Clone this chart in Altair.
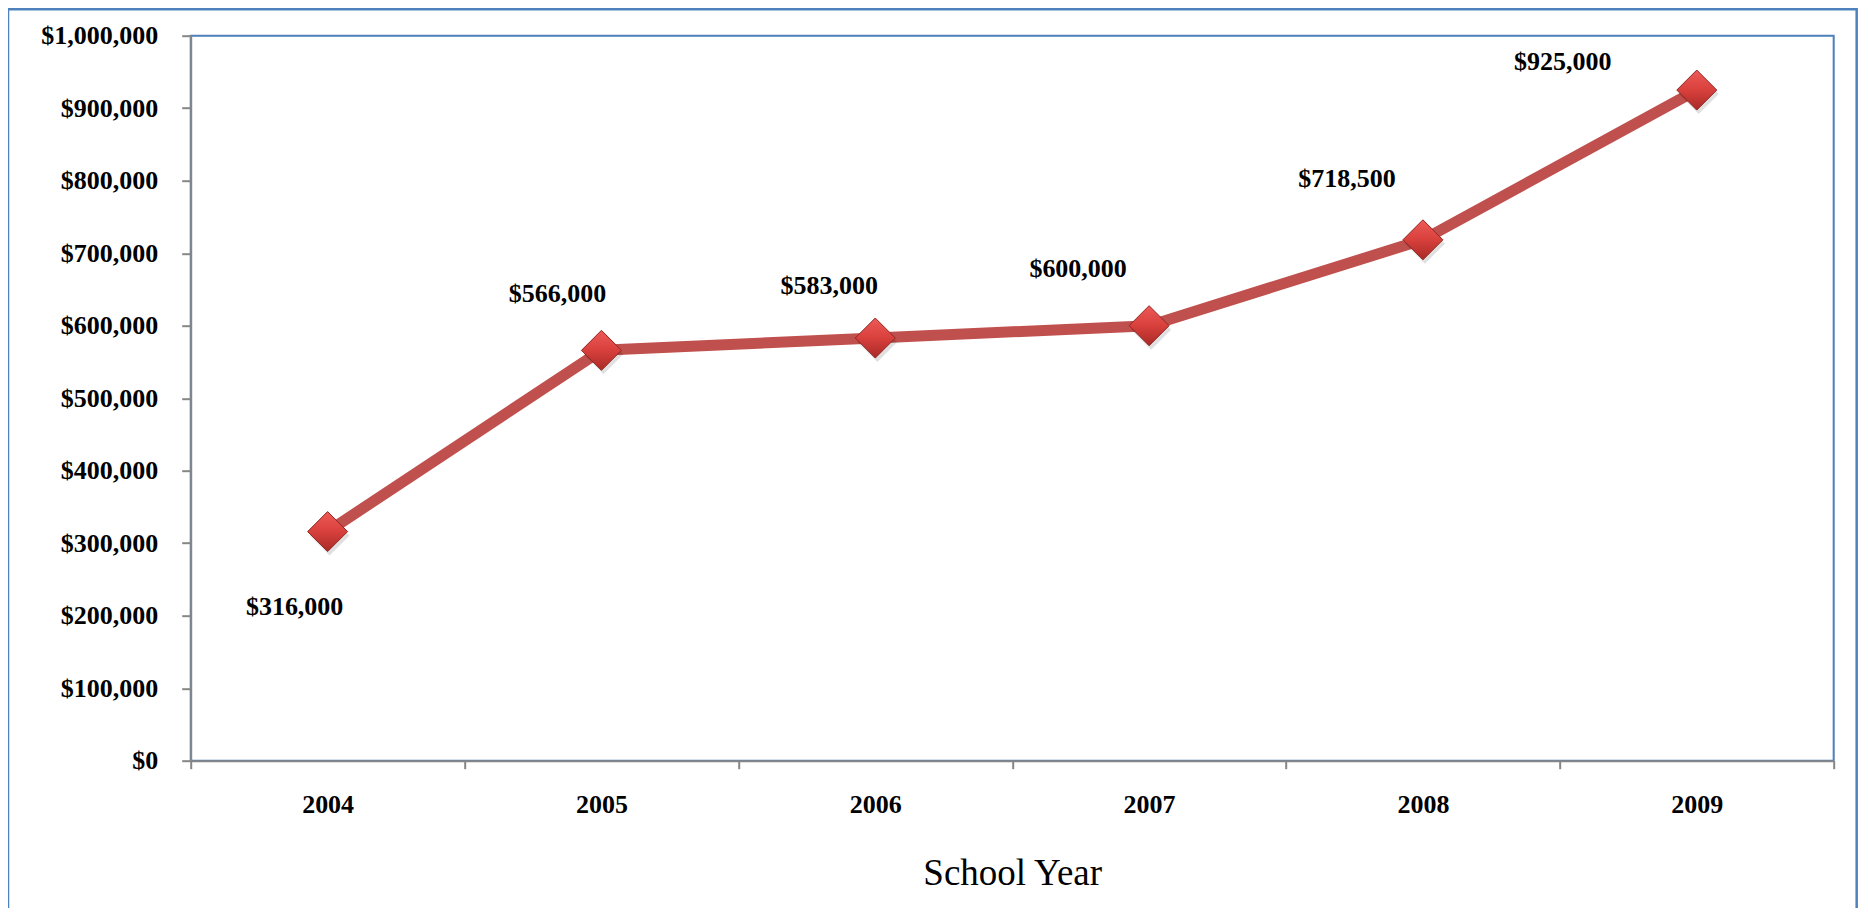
import altair as alt
import pandas as pd

# ---- data ----
years = ["2004", "2005", "2006", "2007", "2008", "2009"]
funding = [316000, 566000, 583000, 600000, 718500, 925000]
y_ticks = [0, 100000, 200000, 300000, 400000, 500000, 600000, 700000, 800000, 900000, 1000000]

# label placement (style only): pixel offsets of each data label from its marker
label_offsets = [(-33, 75), (-44, -56), (-46, -52), (-71, -57), (-76, -61), (-134, -28)]

df = pd.DataFrame({"year": years, "funding": funding})

FONT = "Liberation Serif"
W, H = 1643, 725
AXIS_GRAY = "#868686"
BLUE = "#4F81BD"
RED = "#C0504D"

x_enc = alt.X(
    "year:N",
    sort=years,
    bandPosition=0.5,
    scale=alt.Scale(type="band", paddingInner=0, paddingOuter=0),
    axis=alt.Axis(
        title="School Year",
        labelAngle=0,
        tickBand="extent",
        labelFont=FONT,
        labelFontSize=26,
        labelFontWeight="bold",
        labelColor="black",
        labelPadding=23,
        titleFont=FONT,
        titleFontSize=37,
        titleFontWeight="normal",
        titleColor="black",
        titlePadding=38,
        domainColor=AXIS_GRAY,
        domainWidth=2,
        tickColor=AXIS_GRAY,
        tickWidth=2,
        tickSize=8,
        zindex=1,
    ),
)

y_enc = alt.Y(
    "funding:Q",
    scale=alt.Scale(domain=[0, 1000000], nice=False),
    axis=alt.Axis(
        title=None,
        values=y_ticks,
        format="$,.0f",
        grid=False,
        labelFont=FONT,
        labelFontSize=26,
        labelFontWeight="bold",
        labelColor="black",
        labelPadding=24,
        domainColor=AXIS_GRAY,
        domainWidth=2,
        tickColor=AXIS_GRAY,
        tickWidth=2,
        tickSize=9,
        zindex=1,
    ),
)

base = alt.Chart(df).encode(x=x_enc, y=y_enc)

# plot-area border (blue top/right edges; axes drawn on top of it)
plot_border = alt.Chart(pd.DataFrame({"k": [0]})).mark_rect(
    fillOpacity=0, stroke=BLUE, strokeWidth=2
).encode(x=alt.value(0), x2=alt.value(W), y=alt.value(0), y2=alt.value(H))

line = base.mark_line(color=RED, strokeWidth=11, strokeCap="butt", strokeJoin="round")

shadow = base.mark_point(
    shape="diamond", filled=True, size=1600, color="#000000", opacity=0.12, xOffset=2, yOffset=4
)

diamonds = base.mark_point(
    shape="diamond",
    filled=True,
    size=1600,
    opacity=1,
    fill=alt.Gradient(
        gradient="linear",
        stops=[
            alt.GradientStop(color="#EE5A56", offset=0),
            alt.GradientStop(color="#D8403C", offset=0.5),
            alt.GradientStop(color="#A82A27", offset=1),
        ],
        x1=0.5, y1=0, x2=0.5, y2=1,
    ),
    stroke="#8E2623",
    strokeWidth=1,
)

label_layers = []
for yr, (dx, dy) in zip(years, label_offsets):
    label_layers.append(
        base.transform_filter(alt.datum.year == yr)
        .mark_text(
            font=FONT, fontSize=26, fontWeight="bold", color="black",
            align="center", baseline="middle", dx=dx, dy=dy,
        )
        .encode(text=alt.Text("funding:Q", format="$,.0f"))
    )

frame = alt.Chart(pd.DataFrame({"k": [0]})).mark_rect(
    fillOpacity=0, stroke=BLUE, strokeWidth=2.5
).encode(
    x=alt.value(-182.7), x2=alt.value(1666), y=alt.value(-26.5), y2=alt.value(1200)
)

chart = alt.layer(plot_border, line, shadow, diamonds, *label_layers, frame).properties(
    width=W,
    height=H,
    autosize=alt.AutoSizeParams(type="none"),
    padding={"left": 182.7, "top": 27.7, "right": 26, "bottom": 147},
).configure_view(strokeWidth=0).configure(background="white")

chart.save("out.html", embed_options={"renderer": "svg", "actions": False})
